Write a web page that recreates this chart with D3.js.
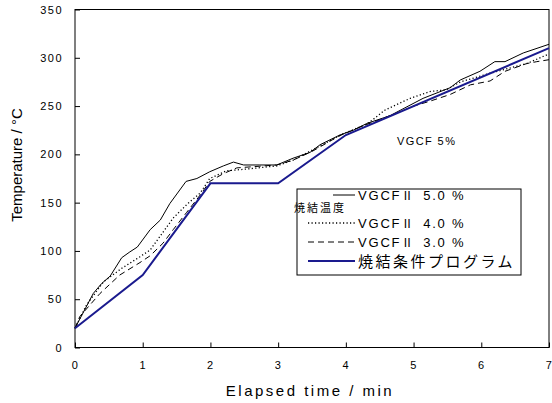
<!DOCTYPE html>
<html>
<head>
<meta charset="utf-8">
<script src="https://cdn.jsdelivr.net/npm/d3@7"></script>
<style>
  body { margin: 0; background: #fff; }
  svg { display: block; }
  text { font-family: "Liberation Sans", Arial, sans-serif; fill: #000; }
</style>
</head>
<body>
<div id="chart"></div>
<script>
// x ticks / y ticks
const xTicks = [0, 1, 2, 3, 4, 5, 6, 7];
const yTicks = [0, 50, 100, 150, 200, 250, 300, 350];

// [time (min), temperature (°C)]
const vgcf50 = [[0,20],[0.27,56],[0.39,66],[0.52,74],[0.69,93],[0.81,99],[0.92,104],[1.11,122],[1.26,132],[1.40,149],[1.64,172],[1.80,175],[1.99,182],[2.19,188],[2.34,192],[2.49,189],[2.73,189],[2.98,189],[3.22,196],[3.47,202],[3.62,210],[3.91,220],[4.11,225],[4.31,232],[4.65,240],[5.14,258],[5.54,269],[5.69,277],[5.98,286],[6.2,296],[6.35,296],[6.62,305],[7.0,314]];
const vgcf40 = [[0,20],[0.17,44],[0.42,68],[0.69,82],[0.96,94],[1.11,101],[1.45,134],[1.65,148],[1.85,160],[1.99,175],[2.24,183],[2.49,184.5],[2.98,188],[3.22,194],[3.6,208],[3.95,221],[4.3,231],[4.4,236],[4.58,246],[4.95,258],[5.24,265],[5.49,267],[5.69,275],[6.13,284],[6.67,294],[7.0,304]];
const vgcf30 = [[0,20],[0.07,32],[0.37,56],[0.66,75],[0.96,88],[1.11,95],[1.3,108],[1.45,122],[1.65,140],[1.85,158],[1.99,172],[2.19,180],[2.39,186],[2.98,189],[3.22,194],[3.5,203],[3.9,219],[4.2,228],[4.5,236],[4.8,244],[5.0,250],[5.24,255],[5.54,262],[5.84,272],[6.13,276],[6.35,286],[6.67,294],[6.82,296],[7.0,298]];
const program = [[0,20],[1,75],[2,170],[3,170],[4,220],[7,310]];

const legendNames = ["VGCF", "VGCF", "VGCF", "焼結条件プログラム"];
const legendRoman = ["Ⅱ", "Ⅱ", "Ⅱ", ""];
const legendPct = ["5.0 %", "4.0 %", "3.0 %", ""];

const W = 552, H = 403;
const svg = d3.select("#chart").append("svg").attr("width", W).attr("height", H);

const x = d3.scaleLinear().domain([0, 7]).range([75, 549]);
const y = d3.scaleLinear().domain([0, 350]).range([347.5, 9.5]);

// axes (ticks point inward)
const xAxis = svg.append("g")
    .attr("transform", `translate(0,${y(0)})`)
    .call(d3.axisBottom(x).tickValues(xTicks).tickSize(-5).tickPadding(14).tickFormat(d3.format("d")));
const yAxis = svg.append("g")
    .attr("transform", `translate(${x(0)},0)`)
    .call(d3.axisLeft(y).tickValues(yTicks).tickSize(-5).tickPadding(12).tickFormat(d3.format("d")));
[xAxis, yAxis].forEach(a => {
    a.select(".domain").remove();
    a.selectAll("line").attr("stroke", "#000");
    a.selectAll("text").style("font-size", "11px").style("letter-spacing", "1.5px").attr("fill", "#000");
});

// frame
svg.append("rect")
    .attr("x", x(0)).attr("y", y(350))
    .attr("width", x(7) - x(0)).attr("height", y(0) - y(350))
    .attr("fill", "none").attr("stroke", "#000").attr("stroke-width", 1);

const line = d3.line().x(d => x(d[0])).y(d => y(d[1]));

const series = [
    { data: vgcf50, color: "#000", width: 1, dash: null },
    { data: vgcf40, color: "#000", width: 1.3, dash: "1.2,2.3" },
    { data: vgcf30, color: "#000", width: 1, dash: "6,4" },
    { data: program, color: "#1a1a8e", width: 2, dash: null }
];

series.forEach(s => {
    svg.append("path")
        .datum(s.data)
        .attr("d", line)
        .attr("fill", "none")
        .attr("stroke", s.color)
        .attr("stroke-width", s.width)
        .attr("stroke-dasharray", s.dash);
});

// annotation
svg.append("text")
    .attr("x", 397).attr("y", 145)
    .style("font-size", "11px").style("letter-spacing", "1.4px")
    .text("VGCF 5%");

// legend
const lg = svg.append("g");
lg.append("rect")
    .attr("x", 297).attr("y", 189).attr("width", 224).attr("height", 86)
    .attr("fill", "#fff").attr("stroke", "#000").attr("stroke-width", 1);

const rowY = [195, 223, 242, 261];
const lineX0 = [333, 308, 308, 308];
series.forEach((s, i) => {
    lg.append("line")
        .attr("x1", lineX0[i]).attr("x2", 355)
        .attr("y1", rowY[i]).attr("y2", rowY[i])
        .attr("stroke", s.color)
        .attr("stroke-width", i === 3 ? 2 : (i === 1 ? 1.6 : 1))
        .attr("stroke-dasharray", s.dash);
    const t = lg.append("text")
        .attr("x", 358).attr("y", rowY[i] + (i === 3 ? 6 : 5));
    if (i === 3) {
        t.style("font-size", "15px").style("letter-spacing", "2.5px")
         .style("font-family", "'Noto Sans CJK JP', sans-serif")
         .text(legendNames[i]);
    } else {
        t.style("font-size", "13px").style("letter-spacing", "1.8px");
        t.append("tspan").text(legendNames[i]);
        t.append("tspan").style("font-family", "'Noto Sans CJK JP', sans-serif")
         .style("font-size", "12px").text(legendRoman[i]);
        t.append("tspan").attr("dx", 8).text(legendPct[i]);
    }
});
lg.append("text")
    .attr("x", 294).attr("y", 212)
    .style("font-size", "11px").style("letter-spacing", "2px")
    .style("font-family", "'Noto Sans CJK JP', sans-serif")
    .text("焼結温度");

// axis titles
svg.append("text")
    .attr("x", 310).attr("y", 396)
    .attr("text-anchor", "middle")
    .style("font-size", "15px").style("letter-spacing", "2.5px")
    .text("Elapsed time / min");

svg.append("text")
    .attr("transform", "translate(22,165) rotate(-90)")
    .attr("text-anchor", "middle")
    .style("font-size", "15px")
    .text("Temperature / °C");
</script>
</body>
</html>
